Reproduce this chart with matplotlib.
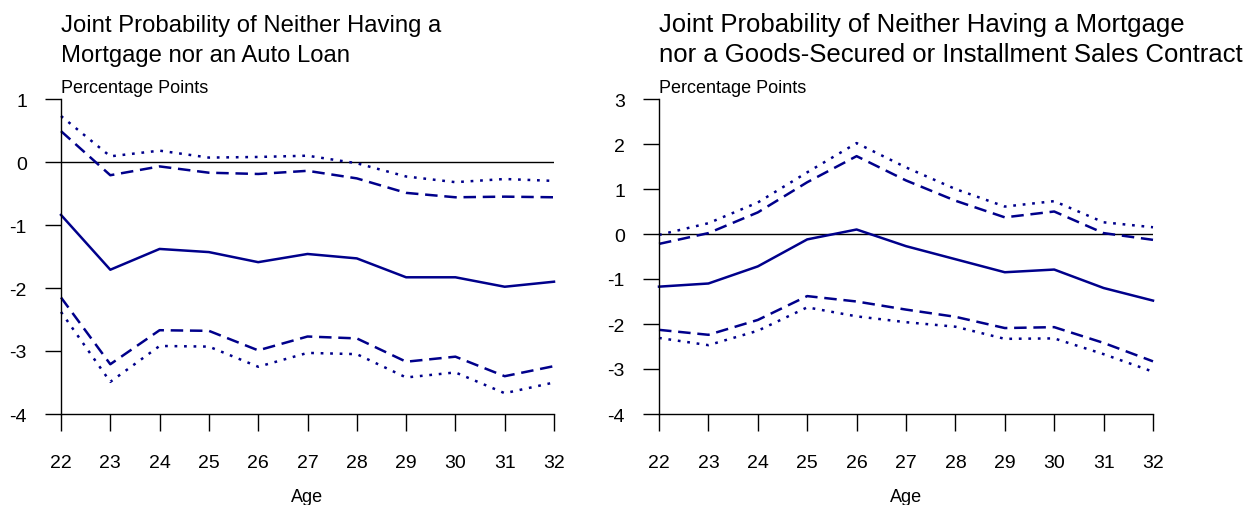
import matplotlib
matplotlib.use("Agg")
import matplotlib.pyplot as plt

plt.rcParams['font.family'] = ['Liberation Sans', 'DejaVu Sans']
plt.rcParams['axes.unicode_minus'] = False

ages = [22, 23, 24, 25, 26, 27, 28, 29, 30, 31, 32]

# Panel 1: mortgage / auto loan
auto_est = [-0.84, -1.71, -1.38, -1.43, -1.59, -1.46, -1.53, -1.83, -1.83, -1.98, -1.90]
auto_hi95 = [0.49, -0.21, -0.07, -0.17, -0.19, -0.14, -0.26, -0.49, -0.56, -0.55, -0.56]
auto_hi99 = [0.73, 0.09, 0.18, 0.07, 0.08, 0.10, -0.02, -0.23, -0.32, -0.27, -0.30]
auto_lo95 = [-2.15, -3.21, -2.67, -2.68, -2.99, -2.77, -2.80, -3.17, -3.09, -3.40, -3.24]
auto_lo99 = [-2.38, -3.49, -2.92, -2.93, -3.25, -3.03, -3.05, -3.42, -3.34, -3.67, -3.50]

# Panel 2: mortgage / goods-secured or installment sales contract
goods_est = [-1.17, -1.10, -0.72, -0.12, 0.10, -0.27, -0.56, -0.85, -0.79, -1.20, -1.48]
goods_hi95 = [-0.22, 0.02, 0.48, 1.15, 1.73, 1.19, 0.74, 0.37, 0.50, 0.02, -0.13]
goods_hi99 = [-0.02, 0.24, 0.70, 1.37, 2.02, 1.48, 1.00, 0.61, 0.73, 0.26, 0.15]
goods_lo95 = [-2.13, -2.24, -1.91, -1.38, -1.50, -1.68, -1.84, -2.09, -2.07, -2.42, -2.83]
goods_lo99 = [-2.31, -2.47, -2.15, -1.63, -1.83, -1.96, -2.06, -2.33, -2.32, -2.67, -3.06]

titles = [["Joint Probability of Neither Having a", "Mortgage nor an Auto Loan"],
          ["Joint Probability of Neither Having a Mortgage",
           "nor a Goods-Secured or Installment Sales Contract"]]
title_sizes = [17.2, 18.5]
yticks = [[1, 0, -1, -2, -3, -4], [3, 2, 1, 0, -1, -2, -3, -4]]

navy = '#00008b'
W, H = 1255, 506
fig = plt.figure(figsize=(W / 100, H / 100), dpi=100)

boxes = [(61, 554), (659, 1153)]
panels = [(auto_est, auto_hi95, auto_hi99, auto_lo95, auto_lo99),
          (goods_est, goods_hi95, goods_hi99, goods_lo95, goods_lo99)]

for (x0, x1), data, title, tsize, yt in zip(boxes, panels, titles, title_sizes, yticks):
    ax = fig.add_axes([x0 / W, (H - 415) / H, (x1 - x0) / W, 315 / H])
    est, hi95, hi99, lo95, lo99 = data
    ax.axhline(0, color='black', lw=1.0)
    ax.plot(ages, est, color=navy, lw=1.8, clip_on=False)
    for s in (hi95, lo95):
        ax.plot(ages, s, color=navy, lw=1.8, ls=(0, (5, 2.7)), clip_on=False)
    for s in (hi99, lo99):
        ax.plot(ages, s, color=navy, lw=1.8, ls=(0, (1.1, 2.7)), clip_on=False)
    ax.set_xlim(22, 32)
    ax.set_ylim(min(yt), max(yt))
    ax.set_xticks(ages)
    ax.set_yticks(yt)
    for side in ('top', 'right'):
        ax.spines[side].set_visible(False)
    for side in ('left', 'bottom'):
        ax.spines[side].set_linewidth(1.0)
    ax.tick_params(axis='y', direction='out', length=11.5, width=1.0, pad=13, labelsize=14)
    ax.tick_params(axis='x', direction='out', length=12, width=1.0, pad=17, labelsize=14)
    ax.set_xlabel('Age', fontsize=13, labelpad=12)
    ax.patch.set_visible(False)
    # two title lines, baselines 30 px apart
    for line, base in zip(title, (32, 62)):
        fig.text(x0 / W, 1 - base / H, line, fontsize=tsize, ha='left', va='baseline')
    fig.text(x0 / W, 1 - 93 / H, 'Percentage Points', fontsize=13, ha='left', va='baseline')

fig.savefig('out.png', dpi=100)
